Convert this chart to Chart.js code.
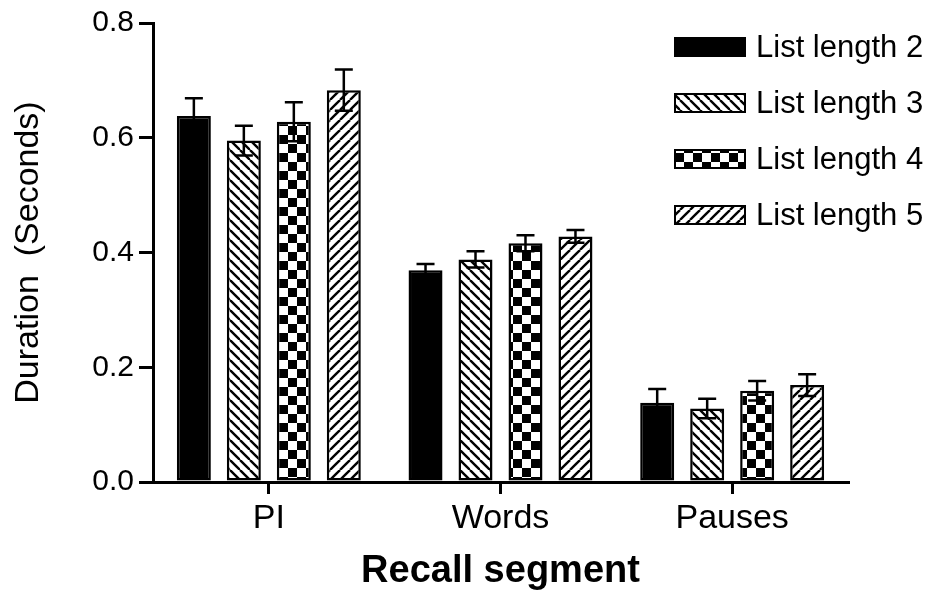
<!DOCTYPE html>
<html>
<head>
<meta charset="utf-8">
<script src="https://cdn.jsdelivr.net/npm/chart.js@4"></script>
<style>
  html, body { margin: 0; padding: 0; background: #fff; }
  #wrap { width: 937px; height: 599px; }
</style>
</head>
<body>
<div id="wrap"><canvas id="chart" width="937" height="599"></canvas></div>
<script>
// === Data ===
const segments = ['PI', 'Words', 'Pauses'];
const seriesNames = ['List length 2', 'List length 3', 'List length 4', 'List length 5'];
const len2 = [0.638, 0.369, 0.138];
const len3 = [0.595, 0.388, 0.128];
const len4 = [0.628, 0.416, 0.159];
const len5 = [0.683, 0.428, 0.169];
const err2 = [0.031, 0.011, 0.024];
const err3 = [0.026, 0.014, 0.017];
const err4 = [0.034, 0.014, 0.017];
const err5 = [0.036, 0.011, 0.019];
const yTicks = [0, 0.2, 0.4, 0.6, 0.8];

const FONT = '"Liberation Sans", Arial, Helvetica, sans-serif';

// === Fill patterns ===
function tile(size, draw) {
  const c = document.createElement('canvas');
  c.width = size; c.height = size;
  const g = c.getContext('2d');
  g.fillStyle = '#fff';
  g.fillRect(0, 0, size, size);
  g.strokeStyle = '#000';
  g.fillStyle = '#000';
  g.lineWidth = 2.4;
  draw(g, size);
  return document.getElementById('chart').getContext('2d').createPattern(c, 'repeat');
}
const backDiag = tile(10, (g, s) => {
  for (let i = -1; i <= 1; i++) { g.beginPath(); g.moveTo(i * s, 0); g.lineTo(i * s + s, s); g.stroke(); }
});
const fwdDiag = tile(10, (g, s) => {
  for (let i = -1; i <= 1; i++) { g.beginPath(); g.moveTo(i * s, s); g.lineTo(i * s + s, 0); g.stroke(); }
});
const checker = tile(18, (g, s) => {
  g.fillRect(0, 0, s / 2, s / 2);
  g.fillRect(s / 2, s / 2, s / 2, s / 2);
});
const fills = ['#000', backDiag, checker, fwdDiag];
const values = [len2, len3, len4, len5];
const errors = [err2, err3, err4, err5];

// === Error bars ===
const errorBars = {
  id: 'errorBars',
  afterDatasetsDraw(chart) {
    const ctx = chart.ctx;
    const y = chart.scales.y;
    ctx.save();
    ctx.strokeStyle = '#000';
    ctx.lineWidth = 2.5;
    chart.data.datasets.forEach((ds, di) => {
      chart.getDatasetMeta(di).data.forEach((bar, i) => {
        const v = ds.data[i], e = ds.err[i];
        const hi = y.getPixelForValue(v + e), lo = y.getPixelForValue(v - e);
        ctx.beginPath();
        ctx.moveTo(bar.x, lo); ctx.lineTo(bar.x, hi);
        ctx.moveTo(bar.x - 9, hi); ctx.lineTo(bar.x + 9, hi);
        ctx.moveTo(bar.x - 9, lo); ctx.lineTo(bar.x + 9, lo);
        ctx.stroke();
      });
    });
    ctx.restore();
  }
};

// === Legend (top right, over the plot) ===
const boxLegend = {
  id: 'boxLegend',
  afterDraw(chart) {
    const ctx = chart.ctx;
    ctx.save();
    ctx.font = '31px ' + FONT;
    ctx.textBaseline = 'middle';
    chart.data.datasets.forEach((ds, i) => {
      const cy = 47 + i * 56;
      ctx.fillStyle = ds.backgroundColor;
      ctx.fillRect(675, cy - 9, 70, 18);
      ctx.strokeStyle = '#000';
      ctx.lineWidth = 2;
      ctx.strokeRect(675, cy - 9, 70, 18);
      ctx.fillStyle = '#000';
      ctx.fillText(ds.label, 756, cy + 1);
    });
    ctx.restore();
  }
};

new Chart(document.getElementById('chart'), {
  type: 'bar',
  data: {
    labels: segments,
    datasets: seriesNames.map((name, i) => ({
      label: name,
      data: values[i],
      err: errors[i],
      backgroundColor: fills[i],
      borderColor: '#000',
      borderWidth: 2.5,
      borderSkipped: false,
      categoryPercentage: 0.863,
      barPercentage: 0.68
    }))
  },
  options: {
    responsive: false,
    animation: false,
    layout: { padding: { top: 18, right: 89, left: 0, bottom: 0 } },
    plugins: { legend: { display: false }, tooltip: { enabled: false } },
    scales: {
      x: {
        afterFit: s => { s.height = 117; },
        border: { color: '#000', width: 3 },
        grid: { offset: false, drawOnChartArea: false, drawTicks: true, tickLength: 12, color: '#000', lineWidth: 3 },
        ticks: { color: '#000', padding: 4, font: { family: FONT, size: 34 } },
        title: { display: true, text: 'Recall segment', color: '#000', padding: { top: 0, bottom: 5 }, font: { family: FONT, size: 38, weight: 'bold' } }
      },
      y: {
        min: 0, max: 0.8,
        afterFit: s => { s.width = 153; },
        afterBuildTicks: s => { s.ticks = yTicks.map(v => ({ value: v })); },
        border: { color: '#000', width: 3 },
        grid: { drawOnChartArea: false, drawTicks: true, tickLength: 14, color: '#000', lineWidth: 3 },
        ticks: { color: '#000', padding: 5, font: { family: FONT, size: 30 }, callback: v => v.toFixed(1) },
        title: { display: true, text: 'Duration  (Seconds)', color: '#000', padding: { top: 8, bottom: 0 }, font: { family: FONT, size: 34 } }
      }
    }
  },
  plugins: [errorBars, boxLegend]
});
</script>
</body>
</html>
